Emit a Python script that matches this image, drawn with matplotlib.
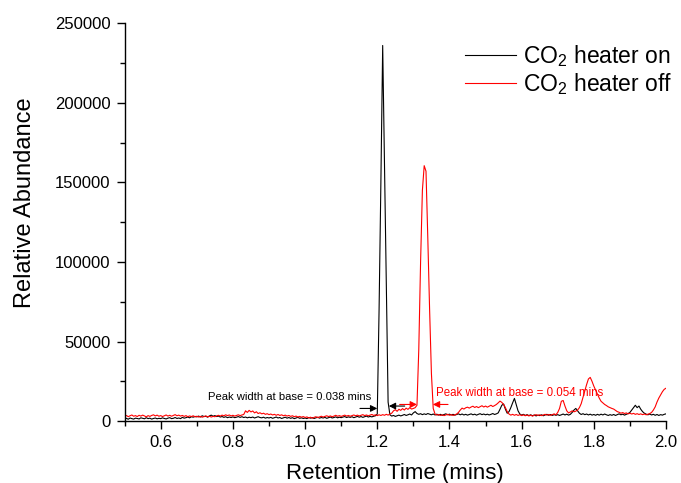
import numpy as np
import matplotlib
matplotlib.use("Agg")
import matplotlib.pyplot as plt
from matplotlib.ticker import MultipleLocator

plt.rcParams["font.family"] = ["Liberation Sans", "DejaVu Sans"]
plt.rcParams["mathtext.fontset"] = "custom"
plt.rcParams["mathtext.rm"] = "Liberation Sans"
plt.rcParams["mathtext.it"] = "Liberation Sans:italic"

# Chromatogram sampling: 0.005 min steps from 0.50 to 2.00 min
t_start = 0.5
t_step = 0.005

heater_on = [
    1500, 1800, 1200, 2000, 1600, 1300, 1900, 1700, 1400, 2100,   # 0.50
    1800, 1500, 2200, 1600, 1900, 1300, 1700, 2000, 1500, 1800,   # 0.55
    1600, 2100, 1700, 1400, 1900, 2200, 1600, 1800, 2300, 1700,   # 0.60
    2000, 1600, 2400, 1900, 2200, 2600, 2100, 2800, 2500, 3000,   # 0.65
    2700, 3200, 2600, 3400, 2900, 3100, 2500, 3300, 3800, 3100,   # 0.70
    3500, 2900, 3200, 2600, 2900, 2400, 2800, 2200, 2600, 2300,   # 0.75
    2700, 2200, 2500, 2900, 2400, 2800, 2300, 2600, 2100, 2500,   # 0.80
    2200, 2600, 2000, 2400, 2800, 2300, 2100, 2500, 1900, 2300,   # 0.85
    2000, 2400, 1800, 2200, 2600, 2000, 2300, 1700, 2100, 2500,   # 0.90
    1900, 2300, 1800, 2200, 1600, 2000, 2400, 1800, 2100, 1700,   # 0.95
    2000, 1600, 2300, 1900, 2200, 1700, 2100, 2500, 1900, 2300,   # 1.00
    2000, 2400, 1800, 2200, 2600, 2000, 2300, 2700, 2100, 2500,   # 1.05
    2200, 2600, 2900, 2300, 2700, 2400, 2800, 2200, 2600, 3000,   # 1.10
    2500, 2900, 2400, 2800, 3200, 2600, 3000, 2700, 3100, 3400,   # 1.15
    4500, 70000, 150000, 236000, 160000, 80000, 12000, 4000, 3200, 3600,  # 1.20
    3000, 3400, 3800, 3300, 3700, 4200, 3600, 4000, 4500, 3900,   # 1.25
    5200, 6000, 4800, 4300, 4700, 4100, 4600, 4200, 4800, 4400,   # 1.30
    4000, 4500, 3900, 4400, 3800, 4300, 3700, 4200, 4600, 4000,   # 1.35
    4400, 3900, 4300, 3800, 4200, 4600, 4000, 4500, 3900, 4300,   # 1.40
    3800, 4200, 4600, 4000, 4400, 3800, 4300, 4700, 4100, 4500,   # 1.45
    4000, 4400, 3900, 4300, 4800, 4200, 4600, 5200, 7500, 10000,  # 1.50
    10800, 7500, 5000, 6000, 8500, 11500, 14300, 10500, 6500, 4500,  # 1.55
    3800, 4300, 3600, 4100, 3500, 4000, 3400, 3900, 3300, 3800,   # 1.60
    3500, 4000, 3400, 3900, 4300, 3700, 4200, 3600, 4100, 3700,   # 1.65
    4100, 3600, 4000, 4500, 3900, 4400, 3800, 4300, 5500, 7000,   # 1.70
    8000, 6500, 5000, 4200, 4700, 4100, 4500, 3900, 4400, 3800,   # 1.75
    4200, 3700, 4300, 3800, 4400, 3900, 4500, 4000, 3600, 4100,   # 1.80
    3700, 4200, 3600, 4100, 4600, 4000, 4400, 3800, 4300, 4800,   # 1.85
    5500, 7000, 8500, 10000, 8500, 9500, 7500, 6000, 5000, 4400,  # 1.90
    4000, 4500, 3900, 4300, 3700, 4200, 3600, 4100, 3800, 4300,   # 1.95
    4600,                                                          # 2.00
]

heater_off = [
    3000, 3600, 2800, 3400, 3900, 3100, 3500, 2900, 3700, 3200,   # 0.50
    3800, 3300, 2700, 3500, 3000, 3600, 4000, 3300, 3800, 3100,   # 0.55
    3500, 2900, 3400, 3900, 3200, 3700, 3100, 3600, 4100, 3400,   # 0.60
    3800, 3200, 3600, 3000, 3500, 2800, 3300, 2900, 3400, 2700,   # 0.65
    3100, 2600, 3000, 2500, 2900, 3300, 2700, 3100, 2600, 3000,   # 0.70
    2800, 3300, 3700, 3200, 3800, 3400, 4000, 3500, 3900, 3300,   # 0.75
    3700, 3200, 3600, 4000, 3500, 3900, 4200, 6500, 5500, 6800,   # 0.80
    5800, 6400, 5200, 5900, 4800, 5300, 4600, 5000, 4300, 4700,   # 0.85
    4100, 4500, 3900, 4300, 3700, 4200, 3600, 4000, 3400, 3800,   # 0.90
    3200, 3600, 3000, 3400, 2800, 3200, 2600, 3000, 2500, 2900,   # 0.95
    2300, 2700, 2000, 2500, 1900, 2400, 2800, 2200, 2700, 3100,   # 1.00
    2600, 3000, 3400, 2900, 3300, 2800, 3200, 3700, 3100, 3500,   # 1.05
    3000, 3400, 3800, 3200, 3600, 3100, 3500, 3900, 3400, 3800,   # 1.10
    3300, 3700, 4100, 3500, 3900, 3400, 3800, 4200, 3600, 4000,   # 1.15
    3500, 4000, 3600, 4100, 3700, 4300, 3800, 4500, 5000, 6500,   # 1.20
    7200, 6200, 7500, 6800, 7900, 7000, 8200, 7400, 8500, 7600,   # 1.25
    8000, 8500, 10000, 45000, 100000, 145000, 160500, 157000, 115000, 70000,  # 1.30
    30000, 8000, 4500, 3800, 4200, 3600, 4000, 3500, 3900, 4300,  # 1.35
    3700, 4100, 3600, 4000, 4500, 5500, 7000, 8200, 7600, 8400,   # 1.40
    8800, 8200, 8900, 9400, 8600, 9200, 8500, 9100, 9700, 8900,   # 1.45
    9500, 8800, 9400, 10000, 9200, 9800, 10500, 11500, 12600, 11800,  # 1.50
    10500, 8500, 6000, 4500, 3800, 4300, 3700, 4200, 3600, 4100,  # 1.55
    3500, 4000, 3400, 3900, 3300, 3800, 3200, 3700, 4100, 3600,   # 1.60
    4000, 3500, 3900, 4300, 3800, 4200, 3700, 4100, 4600, 4000,   # 1.65
    5500, 8000, 12500, 13000, 9500, 6500, 5200, 5800, 6500, 5900,  # 1.70
    6300, 7000, 8500, 11000, 15000, 19000, 23000, 26500, 27500, 25000,  # 1.75
    22000, 19500, 17000, 14500, 12500, 11500, 10500, 9800, 9000, 8500,  # 1.80
    8000, 7600, 6800, 6000, 5600, 5000, 5400, 4800, 5200, 4600,   # 1.85
    5000, 4500, 4900, 4300, 4700, 4200, 4600, 4100, 4500, 4000,   # 1.90
    4400, 4800, 5500, 7000, 9000, 12000, 14500, 16500, 18500, 20000,  # 1.95
    20700,                                                         # 2.00
]

labels = ["CO$_2$ heater on", "CO$_2$ heater off"]
colors = ["black", "#ff0000"]

t_on = t_start + t_step * np.arange(len(heater_on))
t_off = t_start + t_step * np.arange(len(heater_off))

fig = plt.figure(figsize=(6.81, 4.83), dpi=100)
ax = fig.add_axes([0.183, 0.128, 0.795, 0.824])

ax.plot(t_on, heater_on, color=colors[0], lw=0.8, label=labels[0])
ax.plot(t_off, heater_off, color=colors[1], lw=0.8, label=labels[1])

# Peak-width annotations
arrow_kw = dict(arrowstyle="-|>", lw=0.8, mutation_scale=10, shrinkA=0, shrinkB=0)
ax.annotate("", xy=(1.200, 8000), xytext=(1.152, 8000),
            arrowprops=dict(color=colors[0], **arrow_kw))
ax.annotate("", xy=(1.232, 9500), xytext=(1.276, 9500),
            arrowprops=dict(color=colors[0], **arrow_kw))
ax.text(0.731, 15000, "Peak width at base = 0.038 mins", color=colors[0],
        fontsize=8.1, va="center", ha="left")

ax.annotate("", xy=(1.310, 10500), xytext=(1.262, 10500),
            arrowprops=dict(color=colors[1], **arrow_kw))
ax.annotate("", xy=(1.354, 10500), xytext=(1.396, 10500),
            arrowprops=dict(color=colors[1], **arrow_kw))
ax.text(1.362, 18000, "Peak width at base = 0.054 mins", color=colors[1],
        fontsize=8.3, va="center", ha="left")

ax.set_xlim(0.5, 2.0)
ax.set_ylim(0, 250000)
ax.xaxis.set_major_locator(MultipleLocator(0.2))
ax.xaxis.set_minor_locator(MultipleLocator(0.1))
ax.yaxis.set_major_locator(MultipleLocator(50000))
ax.yaxis.set_minor_locator(MultipleLocator(25000))
ax.xaxis.set_major_formatter(plt.FormatStrFormatter("%.1f"))
ax.yaxis.set_major_formatter(plt.FormatStrFormatter("%d"))

for side in ("top", "right"):
    ax.spines[side].set_visible(False)
for side in ("left", "bottom"):
    ax.spines[side].set_linewidth(1.0)

ax.tick_params(which="major", direction="out", length=6, width=1, labelsize=12, pad=4)
ax.tick_params(which="minor", direction="out", length=3.5, width=1)

ax.set_xlabel("Retention Time (mins)", fontsize=16, labelpad=9)
ax.set_ylabel("Relative Abundance", fontsize=17)
ax.yaxis.set_label_coords(-0.163, 0.55)

leg = ax.legend(loc="upper right", bbox_to_anchor=(672 / 681, 1 - 43 / 483),
                bbox_transform=fig.transFigure, frameon=False,
                fontsize=16.5, handlelength=2.2, handletextpad=0.3,
                labelspacing=0.08, borderaxespad=0.0, borderpad=0.0)

fig.savefig("out.png", dpi=100)
